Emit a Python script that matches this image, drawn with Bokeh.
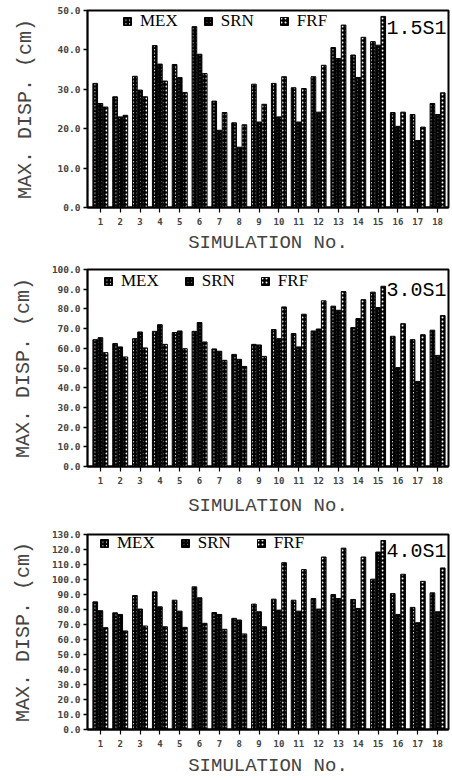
from bokeh.plotting import figure
from bokeh.models import (Range1d, FixedTicker, NumeralTickFormatter, Legend,
                          LegendItem, Label, ColumnDataSource)
from bokeh.layouts import column
from bokeh.transform import dodge
from bokeh.embed import file_html
from bokeh.resources import INLINE

sims = list(range(1, 19))
sim_labels = [str(s) for s in sims]

mex_15 = [31.5, 28.1, 33.3, 41.1, 36.3, 45.9, 27.0, 21.5, 31.3, 31.5, 30.4, 33.2, 40.6, 38.7, 42.1, 24.1, 23.6, 26.4]
srn_15 = [26.4, 23.0, 29.8, 36.4, 33.0, 38.9, 19.6, 15.3, 21.7, 23.0, 21.7, 24.2, 37.8, 33.0, 41.2, 20.6, 17.0, 23.6]
frf_15 = [25.5, 23.4, 28.1, 32.1, 29.2, 34.0, 24.1, 21.0, 26.2, 33.2, 30.2, 36.1, 46.3, 43.2, 48.5, 24.2, 20.4, 29.1]

mex_30 = [64.4, 62.4, 64.9, 68.6, 68.0, 68.6, 59.7, 56.9, 62.0, 69.5, 67.5, 68.8, 81.4, 70.5, 88.5, 66.1, 64.4, 69.2]
srn_30 = [65.4, 60.7, 68.3, 72.0, 68.8, 73.1, 58.5, 54.4, 61.7, 64.9, 60.7, 69.8, 79.3, 75.1, 80.7, 50.2, 43.2, 56.4]
frf_30 = [57.8, 55.6, 60.2, 62.0, 59.8, 63.2, 53.9, 50.8, 55.9, 81.0, 77.3, 84.1, 88.8, 84.7, 91.5, 72.5, 66.9, 76.6]

mex_40 = [85.1, 77.8, 89.3, 91.8, 86.2, 95.1, 78.0, 74.1, 83.6, 86.9, 86.2, 87.3, 90.0, 86.7, 100.2, 90.6, 81.4, 91.1]
srn_40 = [79.2, 76.7, 80.3, 81.8, 78.9, 87.8, 76.7, 73.0, 78.5, 79.6, 78.9, 80.3, 87.3, 80.7, 118.3, 76.7, 71.2, 78.5]
frf_40 = [67.9, 65.7, 69.0, 68.5, 68.1, 70.8, 66.8, 63.7, 68.5, 111.2, 106.6, 115.0, 120.9, 115.0, 126.0, 103.5, 98.8, 107.7]

yticks_15 = [0, 10, 20, 30, 40, 50]
yticks_30 = [0, 10, 20, 30, 40, 50, 60, 70, 80, 90, 100]
yticks_40 = [0, 10, 20, 30, 40, 50, 60, 70, 80, 90, 100, 110, 120, 130]

series_names = ["MEX", "SRN", "FRF"]
panel_tags = ["1.5S1", "3.0S1", "4.0S1"]
x_title = "SIMULATION No."
y_title = "MAX. DISP. (cm)"

MONO = "Liberation Mono"
TICKF = "DejaVu Sans Mono"
SERIF = "Liberation Serif"
LEG_H = 18


def make_panel(mex, srn, frf, yticks, tag, top, frame_h, bottom, left, right,
               y_standoff, x_standoff, leg_x, leg_center, tag_dy):
    src = ColumnDataSource(dict(sim=sims, mex=mex, srn=srn, frf=frf))
    p = figure(width=452, height=top + frame_h + bottom,
               x_range=Range1d(0.35, 18.55), y_range=Range1d(0, yticks[-1]),
               output_backend="svg", toolbar_location=None,
               min_border_left=left, min_border_right=right,
               min_border_top=top, min_border_bottom=bottom,
               background_fill_color="white", border_fill_color="white")
    p.grid.visible = False
    p.outline_line_color = "black"
    p.outline_line_width = 2

    w = 0.235
    styles = [
        dict(fill_color="white", hatch_pattern="/", hatch_color="black",
             hatch_scale=3.5, hatch_weight=1.8),
        dict(fill_color="white", hatch_pattern="\\", hatch_color="black",
             hatch_scale=3.5, hatch_weight=1.8),
        dict(fill_color="black", hatch_pattern=".", hatch_color="white",
             hatch_scale=4, hatch_weight=1.6),
    ]
    cols = ["mex", "srn", "frf"]
    offs = [-0.26, 0.0, 0.26]
    rs = []
    for c, o, st in zip(cols, offs, styles):
        r = p.vbar(x=dodge("sim", o), top=c, width=w, bottom=0, source=src,
                   line_color="black", line_width=1, **st)
        rs.append(r)

    leg = Legend(items=[LegendItem(label=n, renderers=[r]) for n, r in zip(series_names, rs)],
                 orientation="horizontal",
                 location=(leg_x, frame_h - leg_center - LEG_H / 2),
                 background_fill_alpha=0, border_line_alpha=0,
                 padding=0, margin=0, spacing=25, label_standoff=8,
                 glyph_width=10, glyph_height=10, label_height=LEG_H,
                 label_text_font=SERIF, label_text_font_size="17px",
                 label_text_color="black")
    p.add_layout(leg)

    p.add_layout(Label(x=18.55, y=yticks[-1], x_offset=-2, y_offset=tag_dy,
                       text=tag, text_align="right", text_baseline="top",
                       text_font=MONO, text_font_size="20px", text_color="black"))

    xa = p.xaxis[0]
    xa.ticker = FixedTicker(ticks=sims)
    xa.major_label_overrides = {s: l for s, l in zip(sims, sim_labels)}
    xa.minor_tick_line_color = None
    xa.major_tick_out = 5
    xa.major_tick_in = 0
    xa.major_tick_line_width = 1.2
    xa.axis_line_width = 2
    xa.major_label_standoff = 5
    xa.major_label_text_font = TICKF
    xa.major_label_text_font_style = "bold"
    xa.major_label_text_font_size = "9px"
    xa.axis_label = x_title
    xa.axis_label_text_font = MONO
    xa.axis_label_text_font_style = "normal"
    xa.axis_label_text_font_size = "19px"
    xa.axis_label_standoff = x_standoff

    ya = p.yaxis[0]
    ya.ticker = FixedTicker(ticks=yticks)
    ya.formatter = NumeralTickFormatter(format="0.0")
    ya.minor_tick_line_color = None
    ya.major_tick_out = 4
    ya.major_tick_in = 0
    ya.major_tick_line_width = 1.5
    ya.axis_line_width = 1.5
    ya.major_label_standoff = 3
    ya.major_label_text_font = TICKF
    ya.major_label_text_font_style = "bold"
    ya.major_label_text_font_size = "9.5px"
    ya.axis_label = y_title
    ya.axis_label_text_font = MONO
    ya.axis_label_text_font_style = "normal"
    ya.axis_label_text_font_size = "20px"
    ya.axis_label_standoff = y_standoff
    return p


p1 = make_panel(mex_15, srn_15, frf_15, yticks_15, panel_tags[0],
                top=10, frame_h=197, bottom=52, left=87, right=1,
                y_standoff=18, x_standoff=4, leg_x=35, leg_center=12, tag_dy=-6)
p2 = make_panel(mex_30, srn_30, frf_30, yticks_30, panel_tags[1],
                top=10, frame_h=197, bottom=54, left=85, right=1,
                y_standoff=14, x_standoff=8, leg_x=16, leg_center=13, tag_dy=-9)
p3 = make_panel(mex_40, srn_40, frf_40, yticks_40, panel_tags[2],
                top=14, frame_h=196, bottom=49, left=83, right=4,
                y_standoff=14, x_standoff=5, leg_x=12, leg_center=11, tag_dy=-5)

layout = column(p1, p2, p3, spacing=0)
open("out.html", "w").write(file_html(layout, INLINE))
